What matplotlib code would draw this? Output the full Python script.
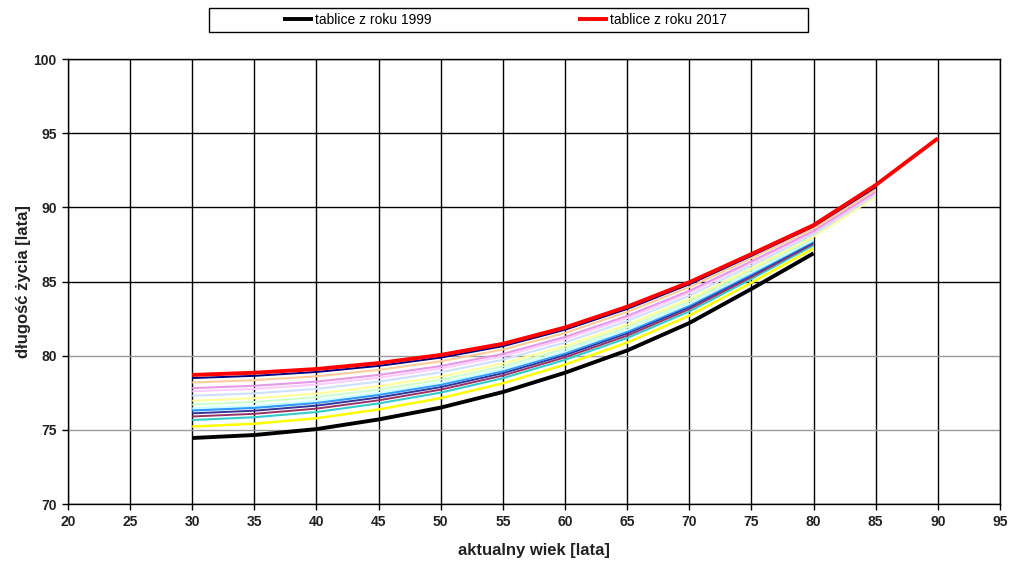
import matplotlib
matplotlib.use("Agg")
import matplotlib.pyplot as plt
from matplotlib.patches import Rectangle

plt.rcParams['font.family'] = ['Liberation Sans', 'DejaVu Sans']

ages_80 = [30, 35, 40, 45, 50, 55, 60, 65, 70, 75, 80]
ages_85 = ages_80 + [85]
ages_90 = ages_80 + [85, 90]

# life-expectancy curves (oldest table at bottom)
y1999 = [74.45, 74.65, 75.05, 75.70, 76.50, 77.55, 78.85, 80.35, 82.20, 84.50, 86.90]
y_yellow = [75.22, 75.41, 75.78, 76.38, 77.14, 78.14, 79.40, 80.88, 82.70, 84.92, 87.24]
y_turq = [75.66, 75.85, 76.20, 76.78, 77.51, 78.48, 79.72, 81.19, 82.98, 85.17, 87.44]
y_maroon = [75.90, 76.08, 76.43, 76.99, 77.71, 78.66, 79.89, 81.35, 83.14, 85.30, 87.55]
y_darkblue = [76.11, 76.29, 76.63, 77.18, 77.88, 78.82, 80.04, 81.50, 83.27, 85.42, 87.64]
y_blue = [76.32, 76.50, 76.83, 77.37, 78.06, 78.98, 80.19, 81.65, 83.41, 85.53, 87.74]
y_lturq = [76.45, 76.62, 76.95, 77.49, 78.17, 79.08, 80.28, 81.74, 83.49, 85.60, 87.79]
y_lgreen = [76.70, 76.88, 77.20, 77.71, 78.38, 79.27, 80.47, 81.91, 83.66, 85.75, 87.91]
y_lyellow = [76.96, 77.13, 77.44, 77.94, 78.59, 79.47, 80.65, 82.09, 83.82, 85.89, 88.02, 90.70]
y_paleblue = [77.30, 77.46, 77.76, 78.25, 78.88, 79.73, 80.89, 82.33, 84.04, 86.07, 88.17, 90.85]
y_lavender = [77.60, 77.76, 78.05, 78.51, 79.13, 79.96, 81.11, 82.53, 84.24, 86.24, 88.31, 90.95]
y_rose = [77.81, 77.97, 78.25, 78.70, 79.30, 80.12, 81.26, 82.68, 84.37, 86.36, 88.40, 91.05]
y_tan = [78.19, 78.35, 78.61, 79.04, 79.62, 80.41, 81.53, 82.95, 84.62, 86.57, 88.57, 91.20]
y_navy = [78.49, 78.64, 78.90, 79.31, 79.87, 80.64, 81.75, 83.15, 84.81, 86.73, 88.71, 91.35]
y2017 = [78.70, 78.85, 79.10, 79.50, 80.05, 80.80, 81.90, 83.30, 84.95, 86.85, 88.80, 91.50, 94.65]

legend_labels = ["tablice z roku 1999", "tablice z roku 2017"]
x_ticks = [20, 25, 30, 35, 40, 45, 50, 55, 60, 65, 70, 75, 80, 85, 90, 95]
y_ticks = [70, 75, 80, 85, 90, 95, 100]

fig = plt.figure(figsize=(10.10, 5.62), dpi=100)
ax = fig.add_axes([0.0673, 0.1032, 0.9227, 0.7918])

# grid
for xv in x_ticks:
    ax.axvline(xv, color='black', lw=1.0, zorder=1)
for yv in y_ticks:
    c = '#9a9a9a' if yv in (75, 80) else 'black'
    ax.axhline(yv, color=c, lw=1.0, zorder=1)

thin = [
    (ages_80, y_yellow, '#FFFF00', 1.8),
    (ages_80, y_turq, '#33CCCC', 1.5),
    (ages_80, y_maroon, '#993366', 1.4),
    (ages_80, y_darkblue, '#333399', 1.4),
    (ages_80, y_blue, '#3399FF', 2.0),
    (ages_80, y_lturq, '#CCFFFF', 1.5),
    (ages_80, y_lgreen, '#CCFFCC', 1.5),
    (ages_85, y_lyellow, '#FFFF99', 1.5),
    (ages_85, y_paleblue, '#CCE0FF', 1.5),
    (ages_85, y_lavender, '#FFCCFF', 1.5),
    (ages_85, y_rose, '#E699E6', 1.5),
    (ages_85, y_tan, '#FFCC99', 1.5),
    (ages_85, y_navy, '#000080', 1.4),
]
for xs, ys, col, lw in thin:
    ax.plot(xs, ys, color=col, lw=lw, zorder=3, solid_capstyle='butt')

l1, = ax.plot(ages_80, y1999, color='black', lw=2.8, zorder=4, solid_capstyle='butt')
l2, = ax.plot(ages_90, y2017, color='#FF0000', lw=2.8, zorder=5, solid_capstyle='butt')

ax.set_xlim(20, 95)
ax.set_ylim(70, 100)
ax.set_xticks(x_ticks)
ax.set_yticks(y_ticks)
ax.tick_params(axis='both', direction='out', length=4, width=1, color='black',
               labelsize=10, labelcolor='#222222', pad=4)
for lab in ax.get_xticklabels() + ax.get_yticklabels():
    lab.set_fontweight('bold')
for s in ax.spines.values():
    s.set_color('black')
    s.set_linewidth(1.0)

ax.set_xlabel("aktualny wiek [lata]", fontsize=12, fontweight='bold', color='#222222', labelpad=10)
ax.set_ylabel("długość życia [lata]", fontsize=12, fontweight='bold', color='#222222', labelpad=2)

# legend frame
fig.patches.append(Rectangle((209/1010, 1-32/562), 599/1010, 24/562,
                             transform=fig.transFigure, fill=False,
                             edgecolor='black', lw=1.0))
fig.legend([l1, l2], legend_labels, loc='center',
           bbox_to_anchor=(505/1010, 1-20/562), ncol=2, frameon=False,
           fontsize=10, handlelength=2.15, handletextpad=0.12,
           columnspacing=10.6, borderpad=0.0)

fig.savefig("out.png", dpi=100)
